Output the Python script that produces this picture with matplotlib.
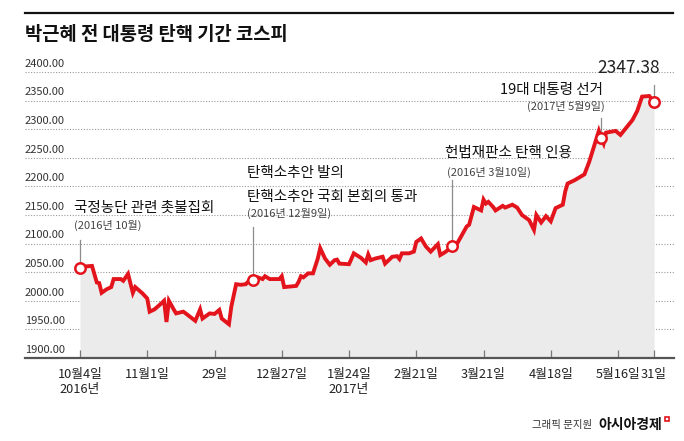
import matplotlib
matplotlib.use("Agg")
import matplotlib.pyplot as plt
import matplotlib.transforms as mtransforms
import pandas as pd

plt.rcParams['font.family'] = ['Noto Sans CJK KR', 'DejaVu Sans']

# KOSPI
dates = ["2016-10-04", "2016-10-06", "2016-10-09", "2016-10-11", "2016-10-12", "2016-10-13",
         "2016-10-15", "2016-10-17", "2016-10-18", "2016-10-21", "2016-10-22", "2016-10-24",
         "2016-10-26", "2016-10-27", "2016-10-30", "2016-11-01", "2016-11-02", "2016-11-04",
         "2016-11-07", "2016-11-08", "2016-11-09", "2016-11-10", "2016-11-12", "2016-11-13",
         "2016-11-16", "2016-11-17", "2016-11-21", "2016-11-23", "2016-11-24", "2016-11-25",
         "2016-11-27", "2016-11-29", "2016-12-01", "2016-12-02", "2016-12-05", "2016-12-06",
         "2016-12-08", "2016-12-10", "2016-12-12", "2016-12-14", "2016-12-15", "2016-12-17",
         "2016-12-19", "2016-12-20", "2016-12-22", "2016-12-26", "2016-12-27", "2016-12-28",
         "2017-01-02", "2017-01-03", "2017-01-04", "2017-01-05", "2017-01-07", "2017-01-09",
         "2017-01-11", "2017-01-12", "2017-01-14", "2017-01-16", "2017-01-18", "2017-01-19",
         "2017-01-20", "2017-01-24", "2017-01-26", "2017-01-29", "2017-01-31", "2017-02-01",
         "2017-02-02", "2017-02-04", "2017-02-07", "2017-02-08", "2017-02-11", "2017-02-13",
         "2017-02-14", "2017-02-15", "2017-02-18", "2017-02-20", "2017-02-21", "2017-02-23",
         "2017-02-25", "2017-02-27", "2017-03-02", "2017-03-03", "2017-03-05", "2017-03-08",
         "2017-03-10", "2017-03-14", "2017-03-15", "2017-03-17", "2017-03-20", "2017-03-21",
         "2017-03-22", "2017-03-23", "2017-03-25", "2017-03-26", "2017-03-29", "2017-03-30",
         "2017-04-02", "2017-04-04", "2017-04-06", "2017-04-09", "2017-04-11", "2017-04-12",
         "2017-04-14", "2017-04-16", "2017-04-18", "2017-04-20", "2017-04-23", "2017-04-24",
         "2017-04-25", "2017-04-28", "2017-05-02", "2017-05-04", "2017-05-08", "2017-05-09",
         "2017-05-10", "2017-05-11", "2017-05-15", "2017-05-17", "2017-05-22", "2017-05-24",
         "2017-05-26", "2017-05-29", "2017-05-31"]
kospi = [2058, 2060, 2061, 2032, 2031, 2014,
         2020, 2024, 2038, 2038, 2035, 2047,
         2014, 2024, 2013, 2004, 1981, 1985,
         1996, 2000, 1963, 2000, 1985, 1978,
         1981, 1978, 1965, 1985, 1969, 1972,
         1978, 1977, 1984, 1969, 1959, 1990,
         2029, 2028, 2029, 2038, 2036, 2041,
         2038, 2043, 2038, 2038, 2043, 2024,
         2026, 2033, 2043, 2041, 2048, 2048,
         2074, 2092, 2074, 2063, 2071, 2072,
         2065, 2064, 2083, 2075, 2067, 2081,
         2071, 2074, 2077, 2065, 2077, 2078,
         2073, 2083, 2083, 2086, 2103, 2109,
         2095, 2086, 2099, 2080, 2085, 2095,
         2100, 2130, 2133, 2164, 2158, 2177,
         2170, 2173, 2164, 2158, 2166, 2163,
         2168, 2163, 2150, 2141, 2124, 2150,
         2137, 2148, 2139, 2162, 2168, 2191,
         2205, 2211, 2221, 2243, 2297, 2284,
         2275, 2294, 2297, 2290, 2316, 2332,
         2357, 2358, 2347.38]

# highlighted points
event_dates = ["2016-10-04", "2016-12-15", "2017-03-08", "2017-05-09", "2017-05-31"]

tick_dates = ["2016-10-04", "2016-11-01", "2016-11-29", "2016-12-27", "2017-01-24",
              "2017-02-21", "2017-03-21", "2017-04-18", "2017-05-16", "2017-05-31"]
tick_labels = ["10월4일\n2016년", "11월1일", "29일", "12월27일", "1월24일\n2017년",
               "2월21일", "3월21일", "4월18일", "5월16일", "31일"]
y_ticks = [1900, 1950, 2000, 2050, 2100, 2150, 2200, 2250, 2300, 2350, 2400]

RED = "#e3141c"
DARK = "#222222"

start = pd.Timestamp(dates[0])
x = [(pd.Timestamp(d) - start).days for d in dates]
val = dict(zip(x, kospi))
ev_x = [(pd.Timestamp(d) - start).days for d in event_dates]
tk_x = [(pd.Timestamp(d) - start).days for d in tick_dates]

fig = plt.figure(figsize=(6.84, 4.41), dpi=100)
ax = fig.add_axes([25 / 684, 1 - 358 / 441, 649 / 684, 286 / 441])

ax.fill_between(x, kospi, 1900, color="#ebebeb", lw=0, zorder=1)
for v in y_ticks[1:]:
    ax.axhline(v, color="#9a9a9a", lw=0.8, ls=(0, (1, 1.5)), zorder=0.5)
ax.plot(x, kospi, color=RED, lw=2.8, solid_joinstyle="miter", zorder=3)
ax.plot(ev_x, [val[e] for e in ev_x], "o", ms=7.5, mfc="white", mec=RED, mew=1.8, zorder=4)

# leader lines above highlighted points
leaders = [(2068, 2106), (2046, 2129), (2105, 2211), (2294, 2320), (2357, 2377)]
for e, (y0, y1) in zip(ev_x, leaders):
    ax.plot([e, e], [y0, y1], color="#8c8c8c", lw=0.9, zorder=2, clip_on=False)

ax.set_xlim(-22.9, 247.3)
ax.set_ylim(1900, 2400)
for s in ["top", "right", "left"]:
    ax.spines[s].set_visible(False)
ax.spines["bottom"].set_color("#555555")
ax.spines["bottom"].set_linewidth(1.6)
ax.set_yticks([])
ax.set_xticks(tk_x)
ax.set_xticklabels(tick_labels, fontsize=9.2, color=DARK, linespacing=1.25)
ax.tick_params(axis="x", direction="in", length=6, width=0.9, color="#777777", pad=7)

trans = mtransforms.blended_transform_factory(ax.transAxes, ax.transData)
for v in y_ticks:
    ax.text(0, v + 9, f"{v:.2f}", transform=trans, fontsize=8, color="#333333",
            ha="left", va="baseline")

# annotations
head = dict(fontsize=10.5, color="#111111", va="center", fontweight="medium")
note = dict(fontsize=8, color="#444444", va="center")
ax.text(-2.7, 2162, "국정농단 관련 촛불집회", **head)
ax.text(-2.7, 2132, "(2016년 10월)", **note)
ax.text(69.7, 2223, "탄핵소추안 발의", **head)
ax.text(69.7, 2181, "탄핵소추안 국회 본회의 통과", **head)
ax.text(69.7, 2152, "(2016년 12월9일)", **note)
ax.text(152, 2258, "헌법재판소 탄핵 인용", **head)
ax.text(152.8, 2225, "(2016년 3월10일)", **note)
ax.text(217.8, 2368, "19대 대통령 선거", ha="right", **head)
ax.text(218.6, 2339, "(2017년 5월9일)", ha="right", **note)
ax.text(241.5, 2407, "2347.38", fontsize=12.5, color=DARK, va="center", ha="right")

# title and top rule
fig.add_artist(plt.Line2D([25 / 684, 673 / 684], [1 - 13 / 441] * 2, color="#111111", lw=1.6))
fig.text(25 / 684, 1 - 35 / 441, "박근혜 전 대통령 탄핵 기간 코스피", fontsize=13.5,
         fontweight="bold", color="#111111", va="center", ha="left")

# credit
fig.text(592 / 684, 1 - 425 / 441, "그래픽 문지원", fontsize=7.5, color="#333333",
         va="center", ha="right")
fig.text(662 / 684, 1 - 425 / 441, "아시아경제", fontsize=10, fontweight="bold",
         color="#111111", va="center", ha="right")
fig.add_artist(plt.Rectangle((665 / 684, 1 - 421 / 441), 4 / 684, 4 / 441, fill=False,
                             ec=RED, lw=1.2))

fig.savefig("out.png", dpi=100)
